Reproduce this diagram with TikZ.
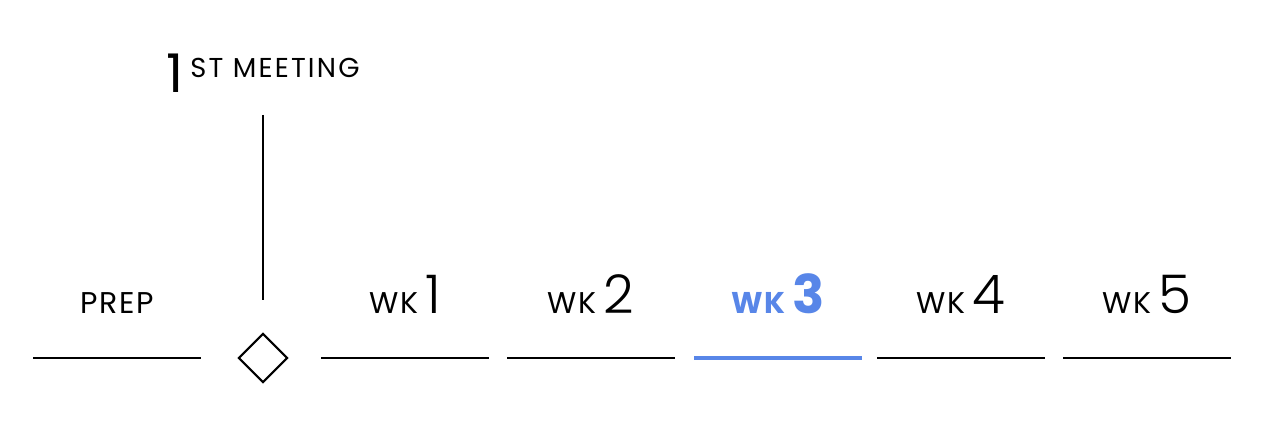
\documentclass[tikz,border=0pt]{standalone}
\usepackage{fontspec}
\setmainfont{Poppins}
\newfontfamily\lightfam{Poppins Light}
\definecolor{wkblue}{RGB}{88,134,232}
\newcommand{\lblfont}{\addfontfeatures{LetterSpace=6}\fontsize{22.5pt}{24pt}\selectfont}
\newcommand{\numfont}{\lightfam\fontsize{40pt}{44pt}\selectfont}
\newcommand{\bignumfont}{\fontsize{40pt}{44pt}\selectfont}
\newcommand{\boldnumfont}{\fontsize{40pt}{44pt}\selectfont\bfseries}
\newcommand{\supfont}{\addfontfeatures{LetterSpace=8}\fontsize{20.5pt}{22pt}\selectfont}
\tikzset{
  seg/.style={line width=1.8pt},
  activeseg/.style={line width=3.4pt, wkblue},
  lbl/.style={anchor=base, inner sep=0pt, outer sep=0pt},
  milestone/.style={draw, line width=1.6pt, minimum size=25.5pt, rotate=45, inner sep=0pt, shape=rectangle},
}
\begin{document}
\begin{tikzpicture}[x=0.75pt, y=-0.75pt]
\useasboundingbox (0,0) rectangle (1263,424);
% segments
\coordinate (p0) at (33,358);  \coordinate (p1) at (201,358);
\coordinate (a0) at (321,358); \coordinate (a1) at (489,358);
\coordinate (b0) at (507,358); \coordinate (b1) at (675,358);
\coordinate (c0) at (694,358); \coordinate (c1) at (862,358);
\coordinate (d0) at (877,358); \coordinate (d1) at (1045,358);
\coordinate (e0) at (1063,358); \coordinate (e1) at (1231,358);
\draw[seg] (p0) -- (p1);
\draw[seg] (a0) -- (a1);
\draw[seg] (b0) -- (b1);
\draw[activeseg] (c0) -- (c1);
\draw[seg] (d0) -- (d1);
\draw[seg] (e0) -- (e1);
% milestone
\node[milestone] (ms) at (263,358) {};
\coordinate (mtop) at (263,115);
\coordinate (mbot) at (263,300);
\draw[line width=1.6pt] (mtop) -- (mbot);
\node[lbl, anchor=base west] (meet) at (166,93) {\bignumfont 1\hspace{5.5pt}\raisebox{11.5pt}{\supfont ST MEETING}};
% labels
\node[lbl] (prep) at (117,313) {\lblfont PREP};
\node[lbl] (w1) at (405,313) {\lblfont WK\hspace{5pt}\numfont 1};
\node[lbl] (w2) at (591,313) {\lblfont WK\hspace{5pt}\numfont 2};
\node[lbl, text=wkblue] (w3) at (778,313) {\lblfont\bfseries WK\hspace{5pt}\boldnumfont 3};
\node[lbl] (w4) at (961,313) {\lblfont WK\hspace{5pt}\numfont 4};
\node[lbl] (w5) at (1147,313) {\lblfont WK\hspace{5pt}\numfont 5};
\end{tikzpicture}
\end{document}
